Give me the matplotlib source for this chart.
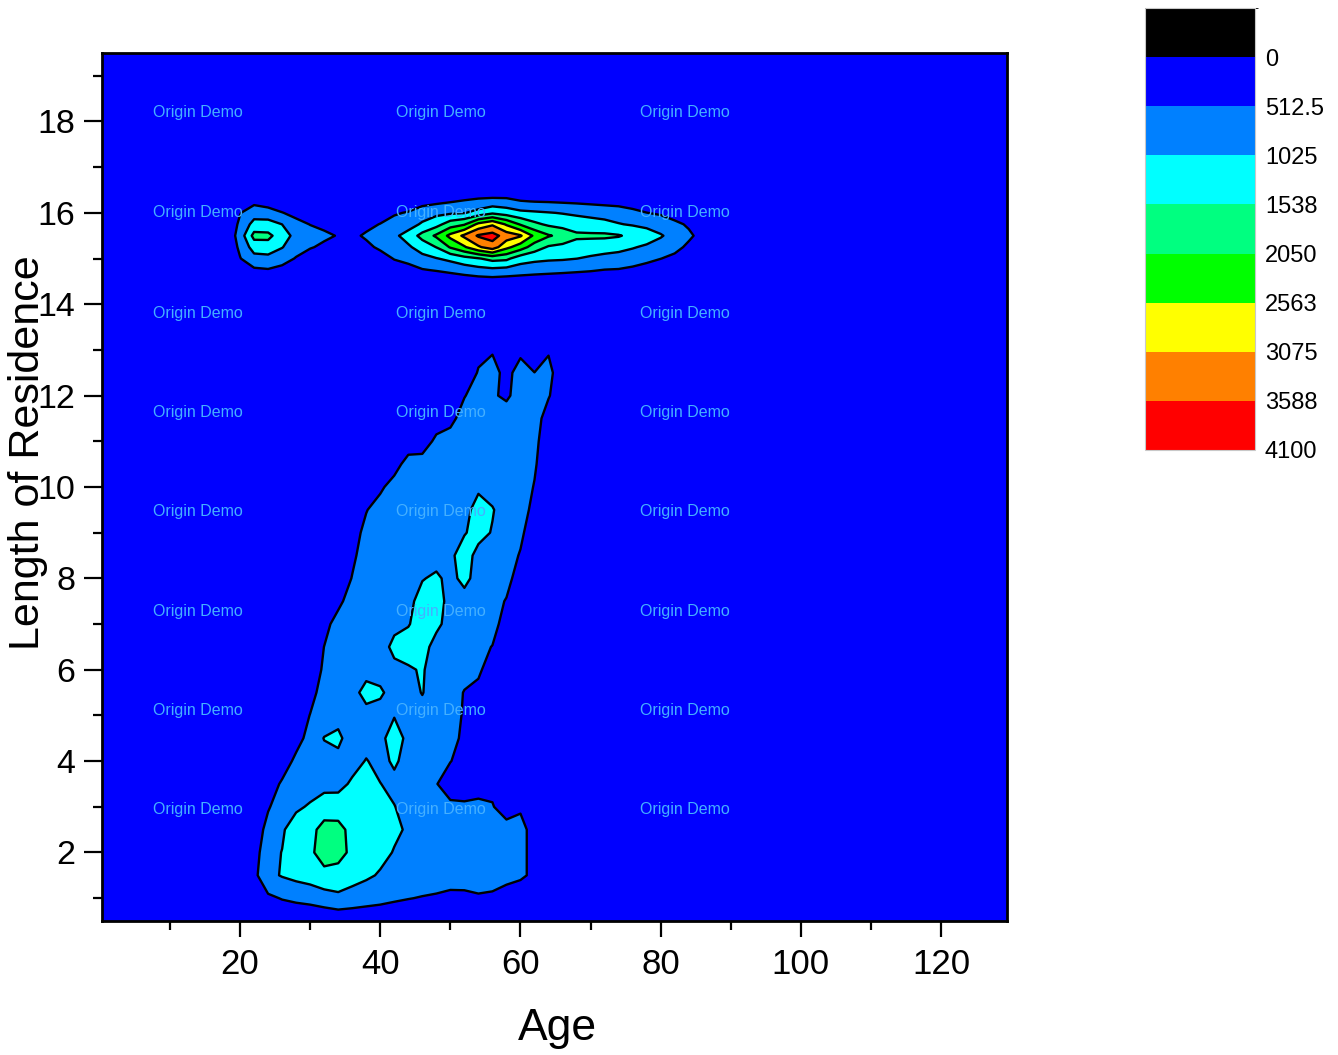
import matplotlib
matplotlib.use("Agg")
import matplotlib.pyplot as plt
from matplotlib.colors import ListedColormap, BoundaryNorm
from matplotlib.ticker import MultipleLocator
import matplotlib.cm as cm

plt.rcParams["font.family"] = ["Liberation Sans", "DejaVu Sans"]

# contour levels / colours as in the Origin colour scale
levels = [-512.5, 0, 512.5, 1025, 1537.5, 2050, 2562.5, 3075, 3587.5, 4100]
fill_colors = ["#000000", "#0000FF", "#0080FF", "#00FFFF", "#00FF80",
               "#00FF00", "#FFFF00", "#FF8000", "#FF0000"]
cbar_labels = ["0", "512.5", "1025", "1538", "2050", "2563", "3075", "3588", "4100"]

# lower cluster (age x length of residence), counts
lower_age = [20, 22, 24, 26, 28, 30, 32, 34, 36, 38, 40, 42,
             44, 46, 48, 50, 52, 54, 56, 58, 60, 62, 64, 66]
lower_res = [0.5, 1.0, 1.5, 2.0, 2.5, 3.0, 3.5, 4.0, 4.5, 5.0, 5.5, 6.0, 6.5, 7.0,
             7.5, 8.0, 8.5, 9.0, 9.5, 10.0, 10.5, 11.0, 11.5, 12.0, 12.5, 13.0, 13.5]
lower_counts = [
    [100, 100, 100, 100, 100, 100, 100, 100, 100, 100, 100, 100, 100, 100, 100, 100, 100, 100, 100, 100, 100, 100, 100, 100],
    [100, 100, 420, 540, 615, 675, 790, 925, 835, 745, 675, 590, 530, 485, 440, 350, 360, 440, 390, 100, 100, 100, 100, 100],
    [100, 380, 900, 1060, 1170, 1260, 1400, 1300, 1200, 1100, 980, 900, 850, 800, 800, 800, 800, 800, 800, 800, 620, 380, 100, 100],
    [100, 255, 900, 1035, 1250, 1450, 1750, 1750, 1400, 1250, 1150, 1000, 880, 800, 800, 800, 800, 800, 800, 800, 800, 160, 100, 100],
    [100, 165, 700, 970, 1250, 1400, 1700, 1700, 1380, 1250, 1200, 1100, 975, 800, 800, 800, 800, 800, 800, 800, 800, 160, 100, 100],
    [100, 150, 460, 800, 950, 1075, 1300, 1280, 1300, 1300, 1150, 1040, 850, 800, 800, 650, 620, 600, 560, 150, 390, 100, 100, 100],
    [100, 100, 100, 620, 800, 825, 850, 870, 1100, 1200, 1035, 900, 800, 750, 540, 190, 170, 355, 320, 100, 100, 100, 100, 100],
    [100, 100, 100, 100, 690, 820, 880, 900, 850, 1050, 880, 1100, 850, 800, 700, 530, 300, 150, 100, 100, 100, 100, 100, 100],
    [100, 100, 100, 100, 225, 780, 1040, 1120, 800, 840, 900, 1250, 900, 850, 800, 700, 390, 150, 100, 100, 100, 100, 100, 100],
    [100, 100, 100, 100, 150, 530, 800, 880, 850, 900, 880, 1000, 850, 900, 800, 750, 450, 200, 100, 100, 100, 100, 100, 100],
    [100, 100, 100, 100, 100, 320, 750, 850, 900, 1150, 1080, 880, 900, 1040, 850, 800, 480, 300, 100, 100, 100, 100, 100, 100],
    [100, 100, 100, 100, 100, 100, 620, 800, 850, 900, 880, 950, 980, 1060, 850, 800, 750, 650, 100, 100, 100, 100, 100, 100],
    [100, 100, 100, 100, 100, 100, 520, 800, 850, 880, 900, 1100, 1200, 1150, 900, 850, 800, 750, 485, 100, 100, 100, 100, 100],
    [100, 100, 100, 100, 100, 100, 320, 750, 850, 880, 900, 950, 1000, 1200, 1100, 900, 850, 800, 850, 100, 100, 100, 100, 100],
    [100, 100, 100, 100, 100, 100, 100, 360, 800, 850, 880, 900, 900, 1200, 1250, 850, 850, 800, 800, 460, 100, 100, 100, 100],
    [100, 100, 100, 100, 100, 100, 100, 100, 540, 800, 850, 880, 900, 1000, 1100, 900, 1150, 850, 800, 790, 100, 100, 100, 100],
    [100, 100, 100, 100, 100, 100, 100, 100, 390, 800, 850, 880, 880, 880, 850, 950, 1200, 900, 850, 800, 460, 100, 100, 100],
    [100, 100, 100, 100, 100, 100, 100, 100, 230, 700, 820, 850, 880, 880, 880, 900, 1000, 1150, 1000, 850, 650, 100, 100, 100],
    [100, 100, 100, 100, 100, 100, 100, 100, 100, 480, 800, 850, 880, 880, 880, 880, 880, 1200, 1050, 850, 800, 320, 100, 100],
    [100, 100, 100, 100, 100, 100, 100, 100, 100, 100, 390, 800, 850, 880, 880, 880, 880, 950, 880, 850, 800, 480, 100, 100],
    [100, 100, 100, 100, 100, 100, 100, 100, 100, 100, 100, 225, 800, 850, 880, 880, 880, 880, 880, 850, 800, 585, 100, 100],
    [100, 100, 100, 100, 100, 100, 100, 100, 100, 100, 100, 100, 100, 100, 690, 800, 850, 850, 850, 850, 800, 690, 100, 100],
    [100, 100, 100, 100, 100, 100, 100, 100, 100, 100, 100, 100, 100, 100, 100, 320, 800, 850, 850, 850, 850, 800, 225, 100],
    [100, 100, 100, 100, 100, 100, 100, 100, 100, 100, 100, 100, 100, 100, 100, 100, 480, 800, 590, 400, 800, 800, 560, 100],
    [100, 100, 100, 100, 100, 100, 100, 100, 100, 100, 100, 100, 100, 100, 100, 100, 100, 560, 750, 300, 800, 520, 700, 100],
    [100, 100, 100, 100, 100, 100, 100, 100, 100, 100, 100, 100, 100, 100, 100, 100, 100, 350, 450, 100, 350, 100, 450, 100],
    [100, 100, 100, 100, 100, 100, 100, 100, 100, 100, 100, 100, 100, 100, 100, 100, 100, 100, 100, 100, 100, 100, 100, 100],
]

# upper band around 15.5 years of residence
upper_age = [18, 20, 22, 24, 26, 28, 30, 32, 34, 36, 38, 40, 42, 44, 46, 48, 50, 52,
             54, 56, 58, 60, 62, 64, 66, 68, 70, 72, 74, 76, 78, 80, 82, 84, 86, 88]
upper_res = [14.5, 14.75, 15.0, 15.25, 15.5, 15.75, 16.0, 16.25, 16.5]
upper_counts = [
    [100, 100, 100, 100, 100, 100, 100, 100, 100, 100, 100, 100, 100, 100, 100, 100, 150, 200,
     250, 280, 250, 220, 200, 180, 170, 150, 130, 120, 100, 100, 100, 100, 100, 100, 100, 100],
    [100, 300, 430, 480, 380, 150, 100, 100, 100, 100, 100, 100, 250, 350, 480, 550, 640, 750,
     850, 900, 850, 780, 720, 680, 640, 600, 560, 500, 480, 400, 300, 200, 120, 100, 100, 100],
    [100, 490, 850, 850, 700, 480, 200, 100, 100, 100, 100, 300, 540, 650, 870, 1000, 1150, 1350,
     1500, 1700, 1650, 1250, 1150, 1100, 1080, 1030, 960, 900, 860, 780, 650, 520, 400, 150, 100, 100],
    [100, 610, 1245, 1350, 1050, 700, 560, 400, 250, 150, 400, 600, 800, 950, 1250, 1550, 2100, 2500,
     3000, 3350, 2700, 2300, 1800, 1480, 1400, 1280, 1250, 1200, 1150, 1060, 950, 820, 650, 420, 200, 100],
    [100, 735, 1700, 1650, 1300, 840, 700, 620, 480, 410, 580, 750, 920, 1230, 1710, 2135, 2700, 3180,
     3650, 3800, 3350, 3130, 2460, 2100, 1900, 1650, 1640, 1640, 1580, 1400, 1260, 1070, 840, 600, 350, 100],
    [100, 610, 1207, 1250, 1020, 650, 500, 380, 250, 150, 380, 530, 720, 800, 1100, 1350, 1800, 2000,
     2700, 3000, 2500, 2000, 1650, 1450, 1350, 1250, 1200, 1150, 1050, 980, 900, 780, 620, 450, 200, 100],
    [100, 490, 793, 700, 530, 380, 200, 100, 100, 100, 100, 250, 450, 560, 750, 900, 950, 1000,
     1200, 1450, 1300, 1150, 1100, 1050, 1000, 950, 900, 850, 800, 650, 520, 450, 300, 150, 100, 100],
    [100, 300, 381, 300, 200, 100, 100, 100, 100, 100, 100, 100, 150, 100, 350, 400, 480, 560,
     650, 700, 680, 540, 500, 480, 450, 420, 380, 340, 300, 250, 200, 150, 100, 100, 100, 100],
    [100, 100, 100, 100, 100, 100, 100, 100, 100, 100, 100, 100, 100, 100, 100, 100, 100, 100,
     100, 100, 100, 100, 100, 100, 100, 100, 100, 100, 100, 100, 100, 100, 100, 100, 100, 100],
]

# watermark grid (axes fractions)
wm_x = [0.106, 0.375, 0.644]
wm_y = [0.931, 0.816, 0.700, 0.586, 0.472, 0.357, 0.242, 0.128]

fig = plt.figure(figsize=(13.38, 10.55), dpi=100)
ax = fig.add_axes([0.0762, 0.1270, 0.6764, 0.8228])
ax.set_facecolor(fill_colors[1])

cmap = ListedColormap(fill_colors)
norm = BoundaryNorm(levels, cmap.N)

for xs, ys, zs in [(lower_age, lower_res, lower_counts), (upper_age, upper_res, upper_counts)]:
    ax.contourf(xs, ys, zs, levels=levels, cmap=cmap, norm=norm)
    ax.contour(xs, ys, zs, levels=levels[2:-1], colors="black", linewidths=1.7)

for x in wm_x:
    for y in wm_y:
        ax.text(x, y, "Origin Demo", transform=ax.transAxes, ha="center", va="center",
                color="#45B0FF", fontsize=11.5, zorder=5)

ax.set_xlim(0.3, 129.4)
ax.set_ylim(0.5, 19.5)
ax.xaxis.set_major_locator(MultipleLocator(20))
ax.xaxis.set_minor_locator(MultipleLocator(10))
ax.yaxis.set_major_locator(MultipleLocator(2))
ax.yaxis.set_minor_locator(MultipleLocator(1))

# tick lengths/pads in points (1 px = 0.72 pt at 100 dpi)
ax.tick_params(axis="x", which="major", direction="out", length=11.5, width=1.6, pad=8,
               labelsize=25)
ax.tick_params(axis="y", which="major", direction="out", length=13, width=1.6, pad=6,
               labelsize=24.5)
ax.tick_params(which="minor", direction="out", length=6.5, width=1.6)
for s in ax.spines.values():
    s.set_linewidth(2)

ax.set_xlabel("Age", fontsize=32)
ax.xaxis.set_label_coords(0.503, -0.100)
ax.set_ylabel("Length of Residence", fontsize=31)
ax.yaxis.set_label_coords(-0.06, 0.54)

# colour scale
cax = fig.add_axes([0.8558, 0.5735, 0.0822, 0.4189])
sm = cm.ScalarMappable(norm=norm, cmap=cmap)
cb = fig.colorbar(sm, cax=cax, boundaries=levels, ticks=levels[1:])
cb.set_ticklabels(cbar_labels)
cax.invert_yaxis()
cax.tick_params(length=0, labelsize=17, pad=7)
cb.outline.set_edgecolor("#c8c8c8")
cb.outline.set_linewidth(0.8)

fig.savefig("out.png", dpi=100)
